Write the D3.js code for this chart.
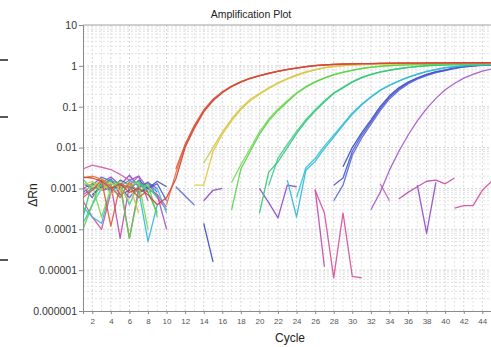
<!DOCTYPE html>
<html>
<head>
<meta charset="utf-8">
<script src="https://cdn.jsdelivr.net/npm/d3@7"></script>
<style>
body { margin: 0; background: #fff; }
svg { display: block; }
text { font-family: Arial, "Liberation Sans", sans-serif; }
</style>
</head>
<body>
<svg id="chart" width="491" height="347"></svg>
<script>
const N = null;

// cycle axis and log ΔRn axis
const cycles = d3.range(1, 46);
const xTickValues = d3.range(2, 46, 2);
const yTickValues = [1e-6, 1e-5, 1e-4, 1e-3, 1e-2, 1e-1, 1, 10];
const yTickLabels = ["0.000001", "0.00001", "0.0001", "0.001", "0.01", "0.1", "1", "10"];

// ΔRn per cycle (1..45), null where the value is <= 0 and not drawn on log scale
const red1 = [1.9e-3, 1.8e-3, 1.5e-3, 1.0e-3, 1.3e-3, 8e-4, 1.0e-3, 7e-4, 4e-4, 6e-4,
    1.7e-3, 0.010, 0.030, 0.075, 0.14, 0.22, 0.31, 0.40, 0.49, 0.57,
    0.65, 0.73, 0.81, 0.88, 0.95, 1.01, 1.05, 1.08, 1.10, 1.12,
    1.13, 1.14, 1.15, 1.16, 1.16, 1.17, 1.17, 1.18, 1.18, 1.18,
    1.19, 1.19, 1.19, 1.19, 1.20];
const red2 = [6e-4, 9e-4, 1.6e-3, 1.2e-4, 1.2e-3, 1.1e-3, 6e-4, 9e-4, N, N,
    3.0e-3, 0.012, 0.035, 0.083, 0.152, 0.232, 0.322, 0.412, 0.50, 0.58,
    0.66, 0.74, 0.82, 0.89, 0.96, 1.02, 1.06, 1.09, 1.11, 1.12,
    1.13, 1.14, 1.15, 1.15, 1.16, 1.16, 1.17, 1.17, 1.17, 1.18,
    1.18, 1.18, 1.18, 1.19, 1.19];
const red3 = [1.8e-3, 2.0e-3, 1.7e-3, 1.1e-3, 6e-4, 1.4e-3, 8e-4, N, N, 4e-4,
    2.4e-3, 0.011, 0.033, 0.079, 0.146, 0.226, 0.316, 0.405, 0.495, 0.575,
    0.655, 0.735, 0.815, 0.885, 0.955, 1.015, 1.055, 1.085, 1.105, 1.12,
    1.13, 1.14, 1.15, 1.16, 1.16, 1.17, 1.17, 1.17, 1.18, 1.18,
    1.18, 1.19, 1.19, 1.19, 1.19];
const yellow1 = [1.2e-3, 1.5e-3, 9e-4, 1.4e-3, 1.0e-3, 5e-4, N, N, N, N,
    N, N, 1.2e-3, 1.2e-3, 8e-3, 0.021, 0.045, 0.085, 0.14, 0.20,
    0.28, 0.37, 0.47, 0.58, 0.69, 0.80, 0.89, 0.96, 1.01, 1.05,
    1.08, 1.10, 1.11, 1.12, 1.13, 1.13, 1.14, 1.14, 1.15, 1.15,
    1.15, 1.16, 1.16, 1.16, 1.16];
const yellow2 = [9e-4, 1.1e-3, 1.6e-3, 7e-4, 1.1e-3, 1.2e-3, 2.5e-4, N, N, N,
    N, N, N, 4.2e-3, 0.010, 0.024, 0.050, 0.092, 0.15, 0.21,
    0.29, 0.385, 0.49, 0.60, 0.71, 0.81, 0.90, 0.97, 1.02, 1.06,
    1.09, 1.10, 1.11, 1.12, 1.13, 1.14, 1.14, 1.15, 1.15, 1.15,
    1.16, 1.16, 1.16, 1.16, 1.17];
const lime1 = [1.0e-4, 4e-4, 1.7e-3, 1.3e-3, 1.1e-3, 6e-5, 8e-4, 1.3e-3, 2.0e-4, N,
    N, N, N, N, N, N, 3e-4, 3.0e-3, 8e-3, 0.021,
    0.045, 0.080, 0.13, 0.21, 0.30, 0.40, 0.50, 0.60, 0.69, 0.78,
    0.86, 0.92, 0.97, 1.01, 1.04, 1.06, 1.08, 1.09, 1.10, 1.11,
    1.11, 1.12, 1.12, 1.13, 1.13];
const lime2 = [1.3e-3, 1.2e-3, 2.0e-4, 1.0e-3, 1.5e-3, 1.2e-3, 1.4e-3, 1.0e-4, N, N,
    N, N, N, N, N, N, 1.4e-3, 3.8e-3, 9.5e-3, 0.024,
    0.050, 0.088, 0.14, 0.22, 0.31, 0.41, 0.51, 0.61, 0.70, 0.79,
    0.87, 0.93, 0.98, 1.02, 1.05, 1.07, 1.08, 1.09, 1.10, 1.11,
    1.11, 1.12, 1.12, 1.12, 1.13];
const teal1 = [2.0e-4, 1.4e-3, 1.1e-3, 1.6e-3, 1.2e-3, 1.0e-3, 1.5e-3, 8e-4, 2.5e-4, N,
    N, N, N, N, N, N, N, N, N, 2.5e-4,
    2.5e-3, 4.5e-3, 0.010, 0.022, 0.044, 0.078, 0.13, 0.21, 0.29, 0.40,
    0.51, 0.61, 0.70, 0.78, 0.85, 0.91, 0.96, 1.00, 1.03, 1.05,
    1.07, 1.08, 1.09, 1.10, 1.10];
const teal2 = [1.7e-3, 9e-4, 1.2e-3, 1.0e-3, 1.3e-3, 4e-4, 1.3e-3, 1.1e-3, 6e-4, N,
    N, N, N, N, N, N, N, N, N, N,
    1.2e-3, 5.5e-3, 0.012, 0.025, 0.048, 0.084, 0.14, 0.22, 0.30, 0.41,
    0.52, 0.62, 0.71, 0.79, 0.86, 0.92, 0.97, 1.01, 1.04, 1.06,
    1.07, 1.08, 1.09, 1.10, 1.10];
const cyan1 = [3.5e-4, 2.0e-4, 1.4e-4, 1.0e-3, 1.0e-3, 1.2e-3, 9e-4, 5e-5, 4e-4, N,
    N, N, N, N, N, N, N, N, N, N,
    N, N, 1.6e-3, 2.0e-4, 2.8e-3, 4.6e-3, 9.5e-3, 0.018, 0.035, 0.065,
    0.11, 0.17, 0.25, 0.33, 0.42, 0.52, 0.62, 0.72, 0.81, 0.89,
    0.95, 1.00, 1.04, 1.06, 1.08];
const cyan2 = [1.4e-4, 4e-4, 1.0e-3, 1.2e-3, 6e-4, 1.5e-3, 1.4e-3, 8e-4, 1.0e-3, 2.5e-4,
    N, N, N, N, N, N, N, N, N, N,
    N, N, N, 6e-4, 3.2e-3, 5.4e-3, 0.011, 0.020, 0.038, 0.070,
    0.115, 0.175, 0.255, 0.34, 0.43, 0.53, 0.63, 0.73, 0.82, 0.90,
    0.96, 1.01, 1.04, 1.06, 1.08];
const blue1 = [1.3e-3, 1.0e-3, 1.2e-3, 1.7e-3, 7e-4, 9e-4, 1.6e-3, 1.0e-3, 1.3e-3, 5e-4,
    N, N, N, N, N, N, N, N, N, N,
    N, N, N, N, N, N, N, 1.2e-3, 1.8e-3, 8e-3,
    0.020, 0.042, 0.090, 0.17, 0.27, 0.38, 0.49, 0.60, 0.70, 0.78,
    0.88, 0.95, 1.00, 1.04, 1.06];
const blue2 = [8e-4, 1.2e-3, 1.9e-3, 1.5e-3, 1.0e-3, 6e-4, 1.1e-3, 1.4e-3, 8e-4, N,
    1.1e-3, 6.5e-4, 3.9e-4, N, N, N, N, N, N, N,
    N, N, N, N, N, N, N, 5e-4, 1.2e-3, 6.5e-3,
    0.017, 0.037, 0.080, 0.155, 0.25, 0.36, 0.47, 0.58, 0.68, 0.77,
    0.86, 0.94, 0.99, 1.03, 1.05];
const blue3 = [N, 7e-4, 1.1e-3, 9e-4, 1.6e-3, 1.2e-3, 8e-4, 1.0e-3, 1.5e-3, 1.1e-3,
    N, N, N, 1.4e-4, 1.6e-5, N, N, N, N, N,
    N, N, N, N, N, N, N, N, 3.4e-3, 0.010,
    0.023, 0.047, 0.10, 0.185, 0.29, 0.40, 0.51, 0.62, 0.72, 0.80,
    0.89, 0.96, 1.01, 1.05, 1.07];
const purple1 = [1.0e-3, 1.3e-3, 9e-4, 1.0e-3, 1.1e-3, 1.6e-3, 2.0e-3, 1.0e-3, 7e-4, 1.0e-4,
    N, N, N, N, N, N, N, N, N, N,
    N, N, N, N, N, N, N, N, N, N,
    N, 3e-4, 8e-4, 2.8e-3, 8e-3, 0.020, 0.045, 0.090, 0.16, 0.26,
    0.37, 0.50, 0.62, 0.74, 0.84];
const purple2 = [3.0e-3, 3.7e-3, 3.3e-3, 2.9e-3, 2.2e-3, 1.6e-3, 1.2e-3, 1.0e-3, 7e-4, 3.5e-4,
    N, N, N, N, N, N, N, N, N, N,
    N, N, N, N, N, N, N, N, N, N,
    N, N, 1.3e-3, 5e-4, N, N, N, N, N, N,
    N, N, N, N, N];
const ntcA = [1.1e-3, 6e-4, 1.4e-3, 1.9e-3, 1.2e-3, 2.1e-3, 1.1e-3, 1.4e-3, 1.0e-3, N,
    N, N, N, 5e-4, 9e-4, 1.0e-3, N, N, N, 1.0e-3,
    4.5e-4, 1.9e-4, 1.2e-3, 1.1e-3, N, N, N, N, N, N,
    N, N, N, N, N, N, 1.2e-3, 8e-5, 1.4e-3, N,
    N, N, N, N, N];
const ntcB = [7e-4, 1.0e-3, 1.1e-3, 1.3e-3, 6e-5, 1.2e-3, 2.0e-3, 5e-4, N, N,
    N, N, N, N, N, N, N, N, N, N,
    N, N, N, N, N, 9.5e-4, 1.2e-5, N, N, N,
    N, N, N, N, 5.5e-4, 8e-4, 1.1e-3, 1.5e-3, 1.6e-3, 1.3e-3,
    1.8e-3, N, N, N, N];
const ntcC = [5e-4, 2.0e-4, 1.0e-4, 8e-4, 1.3e-3, 6e-5, 1.0e-3, 1.4e-3, 6e-4, 3e-4,
    N, N, N, N, N, N, N, N, N, N,
    N, N, N, N, N, 9e-4, 2.5e-4, 6.5e-6, 2.5e-4, 7e-6,
    6.5e-6, N, N, N, N, N, N, N, N, N,
    3.3e-4, 3.8e-4, 3.8e-4, 9e-4, 1.5e-3];

const seriesValues = [ntcA, ntcB, ntcC, purple2, purple1, blue3, blue2, blue1,
    cyan2, cyan1, teal2, teal1, lime2, lime1, yellow2, yellow1, red3, red2, red1];
const seriesColors = ["#8e4cc8", "#c04cb4", "#d6509c", "#d060b8", "#a45ac8", "#3d4cc0", "#5c6ad8", "#4a58d0",
    "#38c4d4", "#30b8d8", "#40cc98", "#34c874", "#7cd858", "#58d44a", "#ccc650", "#e0c83c", "#e8743c", "#dc5a3c", "#d4443a"];

const W = 491, H = 347;
const margin = { left: 83, top: 25, bottom: 311 };

const x = d3.scaleLinear().domain([1, 45]).range([margin.left, 491.6]);
const y = d3.scaleLog().domain([1e-6, 10]).range([margin.bottom, margin.top]);

const svg = d3.select("#chart");

svg.append("clipPath").attr("id", "plot-clip")
    .append("rect")
    .attr("x", margin.left).attr("y", margin.top)
    .attr("width", W - margin.left).attr("height", margin.bottom - margin.top);

// grid
const grid = svg.append("g").attr("class", "grid");
grid.selectAll(".vgrid")
    .data(cycles.slice(1))
    .enter().append("line")
    .attr("x1", (d) => x(d)).attr("x2", (d) => x(d))
    .attr("y1", margin.top).attr("y2", margin.bottom)
    .attr("stroke", (d) => d % 2 === 0 ? "#d6d6d6" : "#e4e4e4")
    .attr("stroke-dasharray", "2,2");

const minorTicks = [];
yTickValues.slice(0, -1).forEach((dec) => {
    for (let k = 2; k <= 9; k++) minorTicks.push(dec * k);
});
grid.selectAll(".hgrid-minor")
    .data(minorTicks)
    .enter().append("line")
    .attr("x1", margin.left).attr("x2", W)
    .attr("y1", (d) => y(d)).attr("y2", (d) => y(d))
    .attr("stroke", "#e2e2e2")
    .attr("stroke-dasharray", "2,2");
grid.selectAll(".hgrid-major")
    .data(yTickValues.slice(1, -1))
    .enter().append("line")
    .attr("x1", margin.left).attr("x2", W)
    .attr("y1", (d) => y(d)).attr("y2", (d) => y(d))
    .attr("stroke", "#d2d2d2")
    .attr("stroke-dasharray", "2,2");

// top border of the plot
svg.append("line")
    .attr("x1", margin.left).attr("x2", W)
    .attr("y1", margin.top).attr("y2", margin.top)
    .attr("stroke", "#a0a0a0");

// curves
const line = d3.line()
    .defined((d) => d != null && d > 0)
    .x((_d, i) => x(cycles[i]))
    .y((d) => y(d));

svg.append("g")
    .attr("clip-path", "url(#plot-clip)")
    .selectAll("path")
    .data(seriesValues)
    .enter().append("path")
    .attr("d", line)
    .attr("fill", "none")
    .attr("stroke", (_d, i) => seriesColors[i])
    .attr("stroke-width", 1.3)
    .attr("stroke-linejoin", "round")
    .attr("opacity", 0.92);

// axes
const yAxis = svg.append("g")
    .attr("transform", `translate(${margin.left},0)`)
    .call(d3.axisLeft(y).tickValues(yTickValues)
        .tickFormat((_d, i) => yTickLabels[i]).tickSize(4).tickPadding(2));
yAxis.select(".domain").attr("stroke", "#8a8a8a");
yAxis.selectAll(".tick line").attr("stroke", "#8a8a8a");
yAxis.selectAll(".tick text")
    .attr("font-size", "10.5px").attr("fill", "#333")
    .attr("font-family", "Arial, 'Liberation Sans', sans-serif");

const xAxis = svg.append("g")
    .attr("transform", `translate(0,${margin.bottom})`)
    .call(d3.axisBottom(x).tickValues(xTickValues).tickSize(3).tickPadding(4));
xAxis.select(".domain").attr("stroke", "#8a8a8a");
xAxis.selectAll(".tick line").attr("stroke", "#8a8a8a");
xAxis.selectAll(".tick text")
    .attr("font-size", "8px").attr("fill", "#555")
    .attr("font-family", "Arial, 'Liberation Sans', sans-serif");

// titles
svg.append("text")
    .attr("x", 251).attr("y", 18)
    .attr("text-anchor", "middle")
    .attr("font-size", "10.5px").attr("fill", "#222")
    .text("Amplification Plot");

svg.append("text")
    .attr("x", 290).attr("y", 342)
    .attr("text-anchor", "middle")
    .attr("font-size", "12px").attr("fill", "#222")
    .text("Cycle");

svg.append("text")
    .attr("transform", "translate(37,195) rotate(-90)")
    .attr("text-anchor", "middle")
    .attr("font-size", "12px").attr("fill", "#222")
    .text("ΔRn");

// small marks at the left edge of the screenshot
svg.selectAll(".edge-mark")
    .data([60, 117, 260])
    .enter().append("line")
    .attr("x1", 0).attr("x2", 8)
    .attr("y1", (d) => d).attr("y2", (d) => d)
    .attr("stroke", "#111").attr("stroke-width", 1.4);
</script>
</body>
</html>
